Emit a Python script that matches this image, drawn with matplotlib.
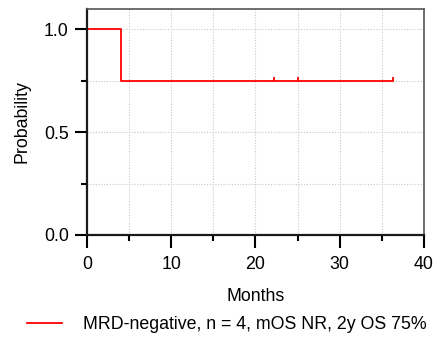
import matplotlib.pyplot as plt
from matplotlib.ticker import MultipleLocator

plt.rcParams['font.family'] = ['Liberation Sans', 'DejaVu Sans']

# Kaplan-Meier step data
times = [0, 4, 4, 36.3]
surv = [1.0, 1.0, 0.75, 0.75]
censor_times = [22.2, 25.0, 36.3]
censor_surv = [0.75, 0.75, 0.75]
label = "MRD-negative, n = 4, mOS NR, 2y OS 75%"

fig = plt.figure(figsize=(4.43, 3.41), dpi=100)
ax = fig.add_axes([0.196, 0.311, 0.761, 0.663])

ax.plot(times, surv, color="#ff0000", lw=1.3, label=label)
ax.plot(censor_times, censor_surv, ls="none", marker=2, ms=3, mew=1.3,
        color="#ff0000")

ax.set_xlim(0, 40)
ax.set_ylim(0, 1.1)
ax.xaxis.set_major_locator(MultipleLocator(10))
ax.xaxis.set_minor_locator(MultipleLocator(5))
ax.yaxis.set_major_locator(MultipleLocator(0.5))
ax.yaxis.set_minor_locator(MultipleLocator(0.25))
ax.grid(True, which="both", ls=(0, (1, 1.5)), color="#c8c8c8", lw=0.8)
ax.set_axisbelow(True)

ax.tick_params(which="major", length=9, width=1.5, labelsize=12.8, pad=4)
ax.tick_params(axis="x", which="major", pad=6)
ax.tick_params(which="minor", length=4.5, width=1.5)
for s in ["left", "bottom"]:
    ax.spines[s].set_linewidth(1.6)
    ax.spines[s].set_color("#1a1a1a")
for s in ["top", "right"]:
    ax.spines[s].set_linewidth(1.2)
    ax.spines[s].set_color("#555555")

ax.set_xlabel("Months", fontsize=12.8, labelpad=11)
ax.set_ylabel("Probability", fontsize=12.8, labelpad=10)

fig.legend(loc="center", bbox_to_anchor=(0.512, 0.047), frameon=False,
           fontsize=12.8, handlelength=2.0, handletextpad=1.2)

fig.savefig("out.png", dpi=100)
